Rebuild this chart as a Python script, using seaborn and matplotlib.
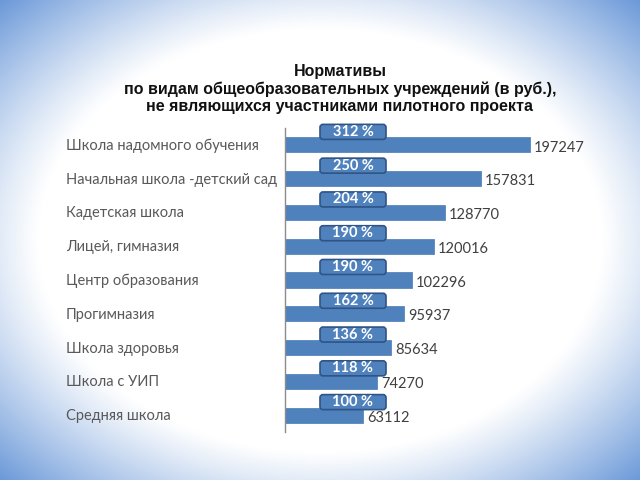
import numpy as np
import pandas as pd
import matplotlib
matplotlib.use("Agg")
import matplotlib.pyplot as plt
import seaborn as sns
from matplotlib.patches import FancyBboxPatch

categories = ["Школа надомного обучения", "Начальная школа -детский сад", "Кадетская школа",
              "Лицей, гимназия", "Центр образования", "Прогимназия", "Школа здоровья",
              "Школа с УИП", "Средняя школа"]
values = [197247, 157831, 128770, 120016, 102296, 95937, 85634, 74270, 63112]
percents = [312, 250, 204, 190, 190, 162, 136, 118, 100]
title = "Нормативы\nпо видам общеобразовательных учреждений (в руб.),\nне являющихся участниками пилотного проекта"

df = pd.DataFrame({"cat": categories, "val": values})

sns.set_theme(style="white")
plt.rcParams['font.family'] = ['Lato', 'DejaVu Sans']

fig = plt.figure(figsize=(6.4, 4.8), dpi=100)

# radial gradient background
bg = fig.add_axes([0, 0, 1, 1], zorder=-10)
H, W = 480, 640
yy, xx = np.mgrid[0:H, 0:W]
u = (xx - 320) / 320.0
v = (yy - 240) / 240.0
r = np.sqrt(u ** 2 + v ** 2)
t = np.clip((r - 0.88) / (1.414 - 0.88), 0, 1) ** 1.1
white = np.array([1.0, 1.0, 1.0])
blue = np.array([0.42, 0.60, 0.85])
img = white[None, None, :] * (1 - t[..., None]) + blue[None, None, :] * t[..., None]
bg.imshow(img, aspect="auto", extent=[0, 1, 0, 1], origin="upper")
bg.axis("off")

ax_left_px, ax_right_px = 285, 600
ax_top_px, ax_bot_px = 128, 432
ax = fig.add_axes([ax_left_px / 640, 1 - ax_bot_px / 480,
                   (ax_right_px - ax_left_px) / 640, (ax_bot_px - ax_top_px) / 480])
ax.patch.set_alpha(0)

px_per_unit = 245 / 197247.0
xmax = (ax_right_px - ax_left_px) / px_per_unit

sns.barplot(data=df, x="val", y="cat", orient="h", color="#4F81BD", saturation=1,
            width=0.45, ax=ax, edgecolor="#4A7AB5", linewidth=0.5)
ax.set_xlim(0, xmax)
ax.set_ylim(len(categories) - 0.5, -0.5)
ax.set_xlabel("")
ax.set_ylabel("")
ax.set_xticks([])
ax.set_yticks([])
for s in ["top", "right", "bottom"]:
    ax.spines[s].set_visible(False)
ax.spines["left"].set_color("#8c8c8c")
ax.spines["left"].set_linewidth(1.0)

row_px = (ax_bot_px - ax_top_px) / len(categories)
unit_per_px_y = 1.0 / row_px

for i, (c, val, p) in enumerate(zip(categories, values, percents)):
    # category label
    fig.text(66 / 640, 1 - (ax_top_px + (i + 0.5) * row_px + 1) / 480, c,
             ha="left", va="center", fontsize=10.5, color="#595959")
    # value label
    ax.text(val + 4 / px_per_unit, i + 0.08, f"{val}", ha="left", va="center",
            fontsize=10.5, color="#404040", clip_on=False)
    # percent box
    bw = 66 / px_per_unit
    bh = 15 * unit_per_px_y
    x0 = (320 - ax_left_px) / px_per_unit
    yc = i - 13 * unit_per_px_y
    rs = 3 / px_per_unit
    patch = FancyBboxPatch((x0, yc - bh / 2), bw, bh,
                           boxstyle=f"round,pad=0,rounding_size={rs}",
                           mutation_aspect=(3 * unit_per_px_y) / rs,
                           facecolor="#4F81BD", edgecolor="#2F5486", linewidth=1.2,
                           zorder=5, clip_on=False)
    ax.add_patch(patch)
    ax.text(x0 + bw / 2, yc, f"{p} %", ha="center", va="center", fontsize=10.5,
            fontweight="bold", color="white", zorder=6, clip_on=False)

fig.text(340 / 640, 1 - 89 / 480, title, ha="center", va="center", fontsize=11.5,
         fontweight="bold", family=["Liberation Sans", "DejaVu Sans"], color="#111111",
         linespacing=1.2)

fig.savefig("out.png", dpi=100)
